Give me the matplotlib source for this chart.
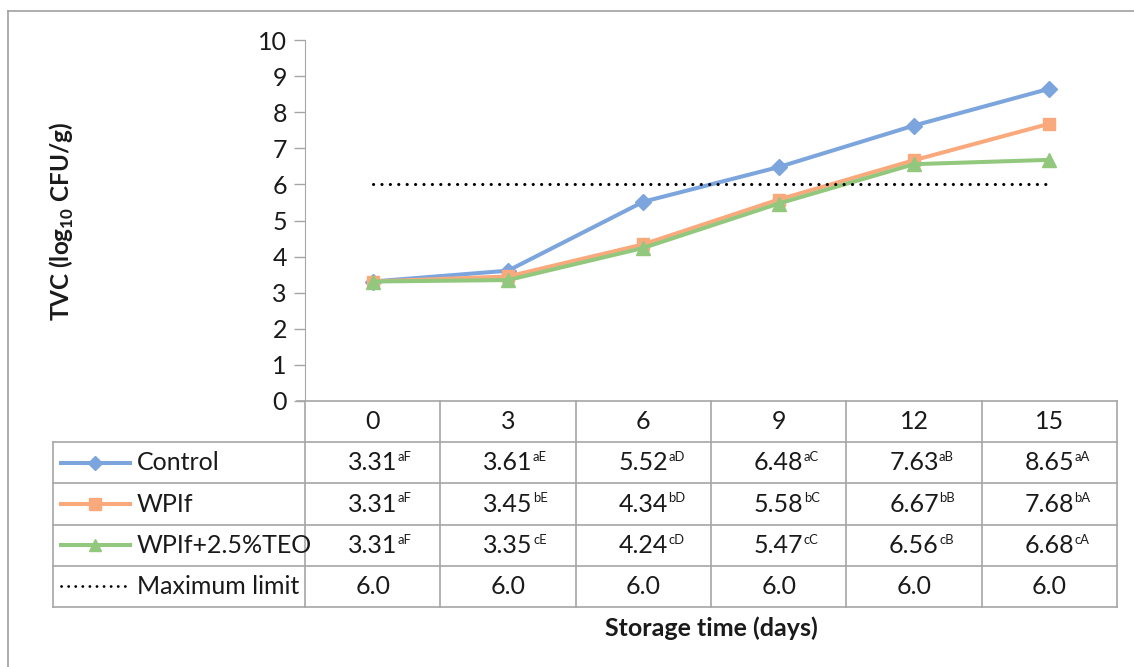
import matplotlib
matplotlib.use("Agg")
import matplotlib.pyplot as plt
from matplotlib.lines import Line2D

# ── Data ──────────────────────────────────────────────────────────────────────
DAYS        = ["0", "3", "6", "9", "12", "15"]
SERIES      = ["Control", "WPIf", "WPIf+2.5%TEO", "Maximum limit"]
CONTROL     = [3.31, 3.61, 5.52, 6.48, 7.63, 8.65]
WPIF        = [3.31, 3.45, 4.34, 5.58, 6.67, 7.68]
WPIF_TEO    = [3.31, 3.35, 4.24, 5.47, 6.56, 6.68]
MAX_LIMIT   = [6.0, 6.0, 6.0, 6.0, 6.0, 6.0]
SUP_CONTROL = ["aF", "aE", "aD", "aC", "aB", "aA"]
SUP_WPIF    = ["aF", "bE", "bD", "bC", "bB", "bA"]
SUP_TEO     = ["aF", "cE", "cD", "cC", "cB", "cA"]
Y_TICKS     = list(range(0, 11))

# ── Style ─────────────────────────────────────────────────────────────────────
BLUE   = "#7ba5dc"
ORANGE = "#f9a97c"
GREEN  = "#92c87d"
GRIDC  = "#a6a6a6"
TEXT   = "#1a1a1a"
FS     = 18

plt.rcParams["font.family"] = ["Lato", "DejaVu Sans"]
plt.rcParams["mathtext.fontset"] = "custom"
plt.rcParams["mathtext.rm"] = "Lato"
plt.rcParams["mathtext.bf"] = "Lato:bold"

W, H = 1134, 667
fig = plt.figure(figsize=(W / 100, H / 100), dpi=100)


def fx(px):
    return px / W


def fy(py):
    return 1 - py / H


# outer frame (only top and left visible inside the crop)
fig.add_artist(Line2D([fx(8), 1.0], [fy(11), fy(11)], color="#a0a0a0", lw=1.2))
fig.add_artist(Line2D([fx(8), fx(8)], [fy(11), 0.0], color="#a0a0a0", lw=1.2))

# ── Main plot ─────────────────────────────────────────────────────────────────
ax = fig.add_axes([fx(305), fy(401), fx(1117) - fx(305), fy(40) - fy(401)])
x = list(range(len(DAYS)))
lines_spec = [
    (CONTROL,  BLUE,   "D", 8),
    (WPIF,     ORANGE, "s", 9),
    (WPIF_TEO, GREEN,  "^", 9.5),
]
for vals, col, mk, ms in lines_spec:
    ax.plot(x, vals, color=col, lw=2.9, marker=mk, markersize=ms,
            markerfacecolor=col, markeredgecolor=col)
ax.plot(x, MAX_LIMIT, color="black", lw=2.2,
        linestyle=(0, (0.05, 2.7)), dash_capstyle="round")

ax.set_xlim(-0.5, len(DAYS) - 0.5)
ax.set_ylim(0, 10)
ax.set_yticks(Y_TICKS)
ax.set_xticks([])
for s in ["top", "right", "bottom"]:
    ax.spines[s].set_visible(False)
ax.spines["left"].set_color(GRIDC)
ax.tick_params(axis="y", direction="out", length=8, width=1, color=GRIDC,
               labelsize=FS, labelcolor=TEXT, pad=5)
ax.set_facecolor("none")

fig.text(fx(62), fy(222), r"TVC (log$_{\mathbf{10}}$ CFU/g)", rotation=90,
         ha="center", va="center", fontsize=FS - 0.5, fontweight="bold", color=TEXT)

# ── Data table ────────────────────────────────────────────────────────────────
tax = fig.add_axes([fx(305), fy(607), fx(1117) - fx(305), fy(401) - fy(607)])
tax.set_xlim(-0.5, len(DAYS) - 0.5)
tax.set_ylim(5, 0)
tax.axis("off")

left = -0.5 - (305 - 53) / 135.33
n = len(DAYS)
# horizontal lines
tax.plot([-0.5 - 0.06, n - 0.5], [0, 0], color=GRIDC, lw=1.2, clip_on=False)
for r in range(1, 6):
    tax.plot([left, n - 0.5], [r, r], color=GRIDC, lw=1.2, clip_on=False)
# vertical lines
for c in range(n + 1):
    tax.plot([c - 0.5, c - 0.5], [0, 5], color=GRIDC, lw=1.2, clip_on=False)
tax.plot([left, left], [1, 5], color=GRIDC, lw=1.2, clip_on=False)

for i, d in enumerate(DAYS):
    tax.text(i, 0.5, d, ha="center", va="center", fontsize=FS, color=TEXT)

rows = [
    (CONTROL,  SUP_CONTROL),
    (WPIF,     SUP_WPIF),
    (WPIF_TEO, SUP_TEO),
]
for r, (vals, sups) in enumerate(rows, start=1):
    for i, (v, s) in enumerate(zip(vals, sups)):
        num = tax.text(i, r + 0.5, f"{v:.2f}", ha="center", va="center",
                       fontsize=FS, color=TEXT)
        tax.annotate(s, xy=(1.0, 1.0), xycoords=num, xytext=(0.2, 0),
                     textcoords="offset points", ha="left", va="top",
                     fontsize=FS * 0.52, color=TEXT)
for i, v in enumerate(MAX_LIMIT):
    tax.text(i, 4.5, f"{v:.1f}", ha="center", va="center", fontsize=FS, color=TEXT)

# legend keys inside the table
kx0 = -0.5 + (61 - 305) / 135.33
kx1 = -0.5 + (130 - 305) / 135.33
kxm = (kx0 + kx1) / 2
tx = -0.5 + (137 - 305) / 135.33
for r, (vals, col, mk, ms) in enumerate(lines_spec, start=1):
    tax.plot([kx0, kx1], [r + 0.5, r + 0.5], color=col, lw=2.9, clip_on=False)
    tax.plot([kxm], [r + 0.5], color=col, marker=mk, markersize=ms - 1,
             linestyle="none", clip_on=False)
tax.plot([kx0, kx1 - 0.02], [4.5, 4.5], color="black", lw=2.0,
         linestyle=(0, (0.05, 2.5)), dash_capstyle="round", clip_on=False)
for r, name in enumerate(SERIES, start=1):
    tax.text(tx, r + 0.5, name, ha="left", va="center", fontsize=FS, color=TEXT)

fig.text(fx(711), fy(628), "Storage time (days)", ha="center", va="center",
         fontsize=FS, fontweight="bold", color=TEXT)

fig.savefig("out.png", dpi=100, facecolor="white")
